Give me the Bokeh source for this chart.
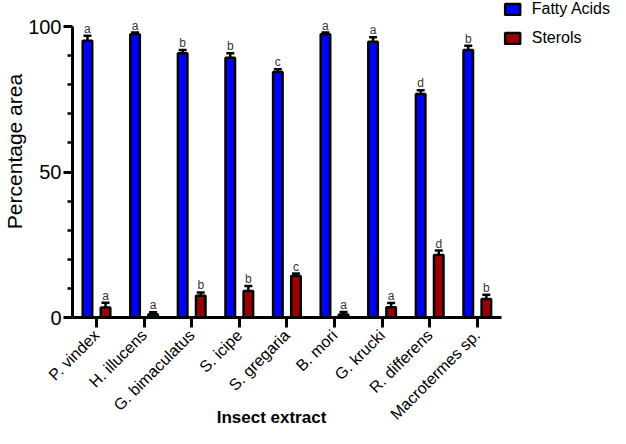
import math
from bokeh.plotting import figure
from bokeh.models import (ColumnDataSource, FixedTicker, Range1d, Whisker, TeeHead,
                          Legend, LegendItem, Label)
from bokeh.core.properties import value
from bokeh.embed import file_html
from bokeh.resources import INLINE

# ---------------- data ----------------
categories = ["P. vindex", "H. illucens", "G. bimaculatus", "S. icipe", "S. gregaria",
              "B. mori", "G. krucki", "R. differens", "Macrotermes sp."]
fatty_acids = [95.1, 97.3, 90.8, 89.3, 84.4, 97.3, 94.8, 76.8, 91.9]
fatty_err = [1.7, 0.6, 1.1, 1.5, 0.9, 0.6, 1.5, 1.3, 1.5]
fatty_letters = ["a", "a", "b", "b", "c", "a", "a", "d", "b"]
sterols = [3.4, 1.1, 7.5, 9.1, 14.3, 1.0, 3.5, 21.5, 6.4]
sterols_err = [1.7, 0.7, 1.1, 1.7, 0.8, 0.9, 1.5, 1.5, 1.4]
sterols_letters = ["a", "a", "b", "b", "c", "a", "a", "d", "b"]
series_names = ["Fatty Acids", "Sterols"]
y_ticks = [0, 50, 100]
y_minor_ticks = [10, 20, 30, 40, 60, 70, 80, 90]
x_title = "Insect extract"
y_title = "Percentage area"

# ---------------- layout (pixels) ----------------
W, H = 610, 428
AXIS_X_PX = 72        # where the y axis line sits
CAT0_PX = 96          # first category centre
PX_PER_CAT = 47.6
ZERO_PX = 317         # y = 0
PX_PER_UNIT = 2.91    # pixels per percentage point

FONT = "Liberation Sans"
BLUE = "#0000FF"
RED = "#9B0000"
OFFSET = 0.19
BAR_W = 0.2

idx = list(range(len(categories)))
x_axis_at = (AXIS_X_PX - CAT0_PX) / PX_PER_CAT


def make_source(vals, errs, letters, shift):
    return ColumnDataSource(dict(
        x=[i + shift for i in idx],
        v=vals,
        u=[a + b for a, b in zip(vals, errs)],
        lab=letters,
    ))


src_f = make_source(fatty_acids, fatty_err, fatty_letters, -OFFSET)
src_s = make_source(sterols, sterols_err, sterols_letters, OFFSET)

p = figure(width=W, height=H, output_backend="svg", toolbar_location=None,
           x_range=Range1d(-CAT0_PX / PX_PER_CAT, (W - CAT0_PX) / PX_PER_CAT),
           y_range=Range1d(-(H - ZERO_PX) / PX_PER_UNIT, ZERO_PX / PX_PER_UNIT),
           min_border=0)
p.outline_line_color = None
p.xgrid.visible = False
p.ygrid.visible = False
p.background_fill_color = "white"
p.border_fill_color = "white"

r_f = p.vbar(x="x", top="v", width=BAR_W, source=src_f, fill_color=BLUE,
             line_color="black", line_width=2.5)
r_s = p.vbar(x="x", top="v", width=BAR_W, source=src_s, fill_color=RED,
             line_color="black", line_width=2.5)

for src in (src_f, src_s):
    w = Whisker(base="x", lower="v", upper="u", source=src, line_color="black",
                line_width=2.5, lower_head=None,
                upper_head=TeeHead(size=8, line_width=2.5, line_color="black"))
    p.add_layout(w)
    p.text(x="x", y="u", text="lab", source=src, text_align="center",
           text_baseline="alphabetic", y_offset=-7, text_font=value(FONT),
           text_font_size="12px", text_color="#333333")

# x axis, drawn at y = 0
xa = p.xaxis[0]
xa.fixed_location = 0
xa.ticker = FixedTicker(ticks=idx)
xa.major_label_overrides = {i: c for i, c in zip(idx, categories)}
xa.major_label_orientation = math.pi / 4
xa.bounds = (x_axis_at, len(categories) - 0.5)
xa.axis_line_width = 3
xa.major_tick_line_width = 3
xa.major_tick_out = 10
xa.major_tick_in = 0
xa.minor_tick_out = 0
xa.minor_tick_in = 0
xa.major_label_standoff = 5
xa.major_label_text_font = FONT
xa.major_label_text_font_size = "16px"
xa.major_label_text_color = "black"

# y axis, drawn left of the first category
ya = p.yaxis[0]
ya.fixed_location = x_axis_at
ya.ticker = FixedTicker(ticks=y_ticks, minor_ticks=y_minor_ticks)
ya.bounds = (0, 100)
ya.axis_line_width = 3
ya.major_tick_line_width = 3
ya.minor_tick_line_width = 2.5
ya.major_tick_out = 9
ya.major_tick_in = 0
ya.minor_tick_out = 5
ya.minor_tick_in = 0
ya.major_label_standoff = 2
ya.major_label_text_font = FONT
ya.major_label_text_font_size = "20px"
ya.major_label_text_color = "black"

# axis titles
p.add_layout(Label(x=14, y=H - 151, x_units="screen", y_units="screen",
                   text=y_title, angle=math.pi / 2, text_align="center",
                   text_baseline="alphabetic", text_font=FONT,
                   text_font_size="21px", text_color="black"))
p.add_layout(Label(x=271, y=11, x_units="screen", y_units="screen",
                   text=x_title, text_align="center",
                   text_baseline="alphabetic", text_font=FONT,
                   text_font_style="bold", text_font_size="17px",
                   text_color="black"))

legend = Legend(items=[LegendItem(label=series_names[0], renderers=[r_f]),
                       LegendItem(label=series_names[1], renderers=[r_s])],
                location="top_right", margin=0, padding=0, spacing=11,
                glyph_width=19, glyph_height=14, label_standoff=10,
                label_text_font=FONT, label_text_font_size="16px",
                label_text_color="black", border_line_color=None,
                background_fill_alpha=0)
p.add_layout(legend)

open("out.html", "w").write(file_html(p, INLINE))
